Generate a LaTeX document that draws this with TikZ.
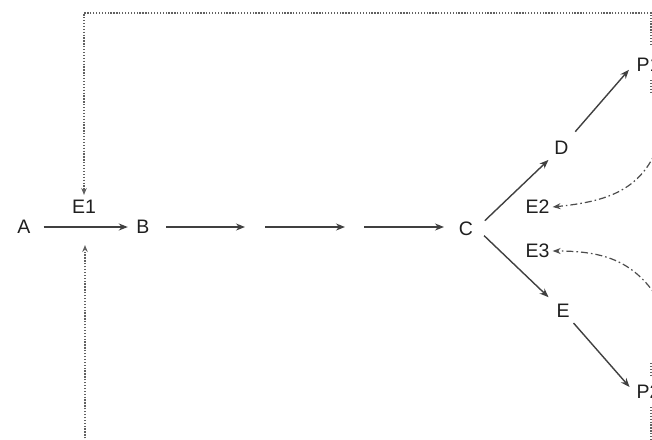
\documentclass[tikz,border=0pt]{standalone}
\usepackage{fontspec}
\setmainfont{Liberation Sans}
\usetikzlibrary{arrows.meta}
\begin{document}
\begin{tikzpicture}[x=1pt,y=-1pt,
 lbl/.style={font=\fontsize{19.5}{22}\selectfont, inner sep=3pt, text=black!88},
 flow/.style={-{Stealth[length=9pt,width=7pt]}, line width=1.4pt, draw=black!75},
 fb/.style={dash pattern=on 1.3pt off 1.6pt, line width=1.3pt, draw=black!62},
 fbarrow/.style={fb, -{Stealth[length=7pt,width=5.5pt]}},
 dashdot/.style={dash pattern=on 7pt off 3pt on 1.6pt off 3pt, line width=1.2pt, draw=black!70, -{Stealth[length=8pt,width=6pt]}}]
\useasboundingbox (0,0) rectangle (652,439);
\clip (0,0) rectangle (652,439);
% nodes
\node[lbl] (A)  at (24,227) {A};
\node[lbl] (E1) at (84,207) {E1};
\node[lbl] (B)  at (143,227) {B};
\node[lbl] (C)  at (466,228.5) {C};
\node[lbl] (D)  at (561.5,147.5) {D};
\node[lbl] (E2) at (537.5,207) {E2};
\node[lbl] (E3) at (537.5,251) {E3};
\node[lbl] (E)  at (563,311) {E};
\node[lbl, anchor=west] (P1) at (633.5,64.5) {P1};
\node[lbl, anchor=west] (P2) at (633.5,391.5) {P2};
% coordinates
\coordinate (s1) at (166,227);
\coordinate (t1) at (245,227);
\coordinate (s2) at (265,227);
\coordinate (t2) at (345,227);
\coordinate (s3) at (364,227);
\coordinate (t3) at (444,227);
\coordinate (j)  at (85,227);
\coordinate (tl) at (84,13);
\coordinate (tr) at (651,13);
\coordinate (rt) at (651,45);
\coordinate (bl) at (85,450);
\coordinate (br) at (651,450);
\coordinate (rb) at (651,407);
\coordinate (q1) at (651,80);
\coordinate (q2) at (651,92);
\coordinate (q3) at (651,363);
\coordinate (q4) at (651,375);
\coordinate (c2) at (662,135);
\coordinate (c3) at (666,312);
% main flow
\draw[flow, shorten <=10pt, shorten >=5.5pt] (A) -- (B);
\draw[flow] (s1) -- (t1);
\draw[flow] (s2) -- (t2);
\draw[flow] (s3) -- (t3);
\draw[flow, shorten <=26pt, shorten >=18pt] (C.south) -- (D.center);
\draw[flow, shorten <=21pt, shorten >=7pt] (D.center) -- (P1.west);
\draw[flow, shorten <=25pt, shorten >=20pt] (C.north) -- (E.center);
\draw[flow, shorten <=16pt, shorten >=6pt] (E.center) -- (P2.west);
% feedback dotted
\draw[fbarrow, shorten >=12pt] (rt) -- (tr) -- (tl) -- (E1.center);
\draw[fbarrow, shorten >=18pt] (rb) -- (br) -- (bl) -- (j);
\draw[fb] (q1) -- (q2);
\draw[fb] (q3) -- (q4);
% dash-dot curves
\draw[dashdot] (c2) .. controls (646,188) and (612,201) .. (E2.east);
\draw[dashdot] (c3) .. controls (640,264) and (610,251) .. (E3.east);
\end{tikzpicture}
\end{document}
